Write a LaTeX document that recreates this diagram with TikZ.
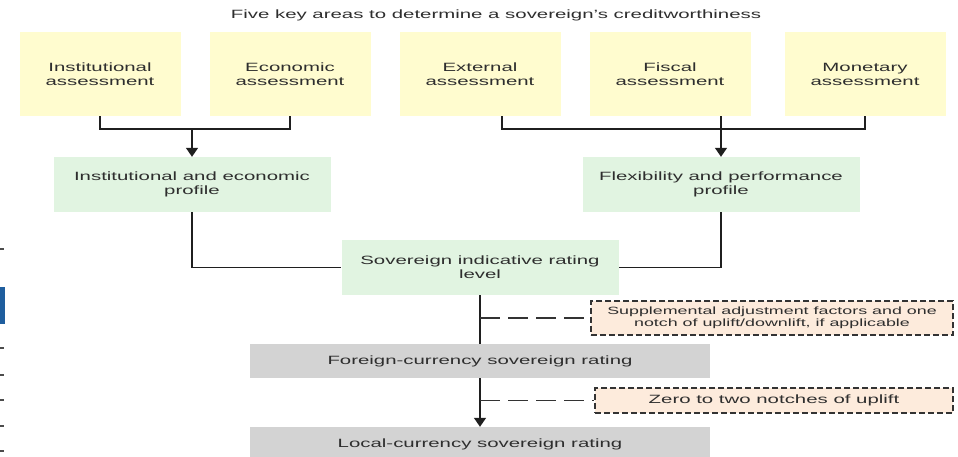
\documentclass[tikz,border=0pt]{standalone}
\usepackage{fontspec}
\setmainfont[FakeStretch=1.7]{Liberation Sans}
\usepackage{xcolor}
\usetikzlibrary{arrows.meta,positioning,calc}
\definecolor{assessyellow}{HTML}{FFFCCF}
\definecolor{profilegreen}{HTML}{E1F4E1}
\definecolor{ratinggrey}{HTML}{D3D3D3}
\definecolor{notepeach}{HTML}{FDEBDC}
\definecolor{textgrey}{HTML}{2E2E2E}
\definecolor{edgeblue}{HTML}{1F5E9E}

\tikzset{
  assess/.style = {fill = assessyellow, minimum width = 161pt, minimum height = 84pt, align = center, text = textgrey},
  profile/.style = {fill = profilegreen, minimum width = 277pt, minimum height = 55pt, align = center, text = textgrey},
  rating/.style = {fill = ratinggrey, minimum width = 460pt, minimum height = 34pt, text = textgrey},
  note/.style = {fill = notepeach, draw = black!80, line width = 1.2pt, dash pattern = on 6pt off 3pt, align = center, text = textgrey},
  link/.style = {draw = black!88, line width = 1.5pt},
  arrowlink/.style = {link, -{Triangle[width = 12pt, length = 9pt]}},
  notelink/.style = {draw = black!80, line width = 1.1pt, dash pattern = on 20pt off 8pt}
}

\begin{document}
\begin{tikzpicture}[x = 1pt, y = -1pt, font = \fontsize{12}{14}\selectfont]
  \useasboundingbox (0,0) rectangle (958,457);
  \clip (0,0) rectangle (958,457);
  \node[text = textgrey] (title) at (496,15) {Five key areas to determine a sovereign's creditworthiness};
  \node[assess] (inst) at (100,74) {Institutional\\assessment};
  \node[assess] (econ) at (290,74) {Economic\\assessment};
  \node[assess] (ext) at (480,74) {External\\assessment};
  \node[assess] (fisc) at (670,74) {Fiscal\\assessment};
  \node[assess] (mon) at (865,74) {Monetary\\assessment};
  \node[profile] (iep) at (192,184.5) {Institutional and economic\\profile};
  \node[profile] (flex) at (721,184.5) {Flexibility and performance\\profile};
  \node[profile] (sil) at (480,267.5) {Sovereign indicative rating\\level};
  \node[rating] (fc) at (480,361) {Foreign-currency sovereign rating};
  \node[rating] (lc) at (480,444) {Local-currency sovereign rating};
  \node[note, minimum width = 362pt, minimum height = 34pt, font = \fontsize{10.5}{12.5}\selectfont] (adj) at (772,318) {Supplemental adjustment factors and one\\notch of uplift/downlift, if applicable};
  \node[note, minimum width = 358pt, minimum height = 25pt] (uplift) at (774,400.5) {Zero to two notches of uplift};
  \coordinate (jl) at (192,129);
  \coordinate (jr) at (721,129);
  \draw[link] (inst.south) |- (jl) -| (econ.south);
  \draw[arrowlink] (jl) -- (iep.north);
  \draw[link] ([xshift = 22pt]ext.south) |- (jr) -| (mon.south);
  \draw[link] (fisc.south -| jr) -- (jr);
  \draw[arrowlink] (jr) -- (flex.north);
  \draw[link] (iep.south) |- (sil.west);
  \draw[link] (flex.south) |- (sil.east);
  \draw[link] (sil.south) -- (fc.north);
  \draw[arrowlink] (fc.south) -- (lc.north);
  \draw[notelink] (fc.north |- adj.west) -- (adj.west);
  \draw[notelink] (fc.north |- uplift.west) -- (uplift.west);
  \fill[edgeblue] (0,287) rectangle (5,324);
  \foreach \y in {249,348,375,400,426,451}
    \draw[black!70, line width = 1.2pt] (0,\y) -- (4,\y);
\end{tikzpicture}
\end{document}
